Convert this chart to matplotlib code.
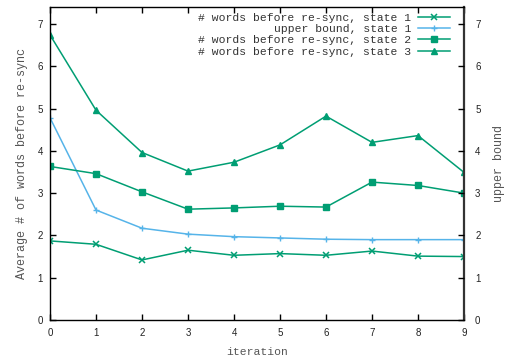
import matplotlib
matplotlib.use("Agg")
import matplotlib.pyplot as plt

iterations = [0, 1, 2, 3, 4, 5, 6, 7, 8, 9]
state1 = [1.87, 1.79, 1.42, 1.65, 1.53, 1.57, 1.53, 1.63, 1.51, 1.50]
upper_bound1 = [4.78, 2.60, 2.17, 2.03, 1.97, 1.94, 1.91, 1.90, 1.90, 1.90]
state2 = [3.63, 3.46, 3.03, 2.62, 2.65, 2.69, 2.67, 3.26, 3.18, 3.00]
state3 = [6.74, 4.96, 3.96, 3.52, 3.73, 4.14, 4.82, 4.20, 4.36, 3.49]

labels = [
    "# words before re-sync, state 1",
    "upper bound, state 1",
    "# words before re-sync, state 2",
    "# words before re-sync, state 3",
]
y_ticks = [0, 1, 2, 3, 4, 5, 6, 7]

GREEN = "#009e73"
BLUE = "#56b4e9"
MONO = "Liberation Mono"
SANS = "Liberation Sans"
TEXT = "#555555"

fig = plt.figure(figsize=(5.18, 3.58), dpi=100)
ax = fig.add_axes([50 / 518, 1 - 320 / 358, 414 / 518, 313 / 358])

ax.plot(iterations, state1, color=GREEN, lw=1.1, marker="x", ms=5, mew=1.1, label=labels[0])
ax.plot(iterations, upper_bound1, color=BLUE, lw=1.1, marker="+", ms=4, mew=1.0, label=labels[1])
ax.plot(iterations, state2, color=GREEN, lw=1.1, marker="s", ms=4.5, label=labels[2])
ax.plot(iterations, state3, color=GREEN, lw=1.1, marker="^", ms=5, label=labels[3])

ax.set_xlim(0, 9)
ax.set_ylim(0, 7.4)
ax.set_xticks(iterations)
ax.set_yticks(y_ticks)
ax.tick_params(axis="both", direction="in", length=4, width=1, labelsize=7,
               top=True, colors="black")
ax.tick_params(axis="x", pad=6)
ax.tick_params(axis="y", pad=5)
for t in ax.get_xticklabels() + ax.get_yticklabels():
    t.set_fontfamily(SANS)
    t.set_color("#222222")

for s in ax.spines.values():
    s.set_linewidth(1.0)
ax.spines["right"].set_linewidth(1.6)
ax.spines["right"].set_color("#333333")

ax.set_xlabel("iteration", fontfamily=MONO, fontsize=8.2, color=TEXT, labelpad=6)
ax.set_ylabel("Average # of words before re-sync", fontfamily=MONO, fontsize=8.5,
              color=TEXT, labelpad=7)

# right-hand axis with the same scale
ax2 = ax.twinx()
ax2.set_ylim(ax.get_ylim())
ax2.set_yticks(y_ticks)
ax2.tick_params(axis="y", direction="in", length=4, width=1, labelsize=7, pad=8)
for t in ax2.get_yticklabels():
    t.set_fontfamily(SANS)
    t.set_color("#222222")
for s in ax2.spines.values():
    s.set_visible(False)
ax2.set_ylabel("upper bound", fontfamily=MONO, fontsize=8.5, color=TEXT, labelpad=9)

leg = ax.legend(loc="upper right", bbox_to_anchor=(0.966, 0.982), frameon=False,
                markerfirst=False, borderaxespad=0, borderpad=0, labelspacing=0.12,
                handlelength=2.8, handletextpad=0.6,
                prop={"family": MONO, "size": 8.2})
for t in leg.get_texts():
    t.set_color("#333333")
leg.set_zorder(5)

fig.savefig("out.png", dpi=100)
